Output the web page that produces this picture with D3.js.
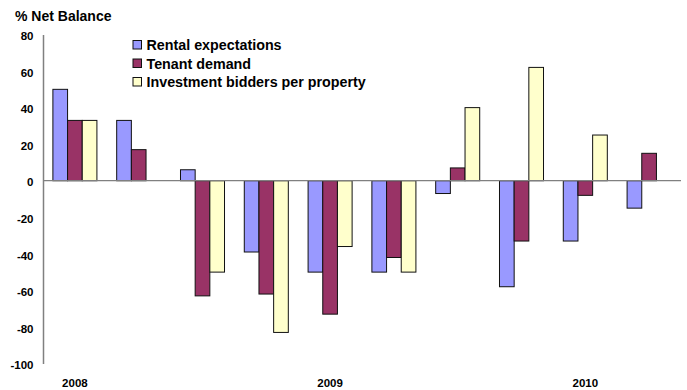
<!DOCTYPE html>
<html>
<head>
<meta charset="utf-8">
<script src="https://cdn.jsdelivr.net/npm/d3@7"></script>
<style>
  html, body { margin: 0; padding: 0; background: #fff; }
  svg { display: block; font-family: Arial, "Liberation Sans", sans-serif; }
</style>
</head>
<body>
<svg id="chart" width="687" height="390"></svg>
<script>
// Quarterly survey net balances, Q1 2008 to Q2 2010
const categories = ["Q1 2008", "Q2 2008", "Q3 2008", "Q4 2008", "Q1 2009",
                    "Q2 2009", "Q3 2009", "Q4 2009", "Q1 2010", "Q2 2010"];
const yearLabels = [
  { at: "Q1 2008", text: "2008" },
  { at: "Q1 2009", text: "2009" },
  { at: "Q1 2010", text: "2010" }
];
const seriesNames = ["Rental expectations", "Tenant demand", "Investment bidders per property"];
const rentalExpectations = [50, 33, 6, -39, -50, -50, -7, -58, -33, -15];
const tenantDemand       = [33, 17, -63, -62, -73, -42, 7, -33, -8, 15];
const investmentBidders  = [33, null, -50, -83, -36, -50, 40, 62, 25, null];
const yTicks = [80, 60, 40, 20, 0, -20, -40, -60, -80, -100];
const seriesColors = ["#9999FF", "#993366", "#FFFFCC"];

const seriesValues = [rentalExpectations, tenantDemand, investmentBidders];

const svg = d3.select("#chart");

const x = d3.scaleBand().domain(categories).range([43, 681]).padding(0);
const xInner = d3.scaleBand().domain(d3.range(seriesNames.length))
  .range([x.bandwidth() * 0.155, x.bandwidth() * 0.845]).padding(0);
const y = d3.scaleLinear().domain([-100, 80]).range([363.5, 34.5]);

// Title
svg.append("text")
  .attr("x", 15).attr("y", 21)
  .attr("font-size", 14).attr("font-weight", "bold").attr("fill", "#000")
  .text("% Net Balance");

// Y axis (plain hyphen for negative labels)
const yAxis = d3.axisLeft(y).tickValues(yTicks).tickSize(0).tickPadding(9.5)
  .tickFormat(d => String(d));
const gy = svg.append("g").attr("transform", "translate(43,0)").call(yAxis);
gy.select(".domain").attr("stroke", "#808080").attr("stroke-width", 1.5);
gy.selectAll(".tick text")
  .attr("font-size", 11.5).attr("font-weight", "bold").attr("fill", "#000")
  .attr("font-family", "Arial, 'Liberation Sans', sans-serif")
  .attr("dy", "0.45em");

// Bars
const groups = svg.append("g").selectAll("g")
  .data(categories)
  .join("g")
  .attr("transform", d => `translate(${x(d)},0)`);

groups.selectAll("rect")
  .data((c, i) => seriesValues.map((vals, s) => ({ s, v: vals[i] })).filter(d => d.v != null))
  .join("rect")
  .attr("x", d => xInner(d.s))
  .attr("width", xInner.bandwidth())
  .attr("y", d => y(Math.max(0, d.v)))
  .attr("height", d => Math.abs(y(d.v) - y(0)))
  .attr("fill", d => seriesColors[d.s])
  .attr("stroke", "#111")
  .attr("stroke-width", 1);

// Zero line
svg.append("line")
  .attr("x1", 43).attr("x2", 681)
  .attr("y1", y(0)).attr("y2", y(0))
  .attr("stroke", "#808080").attr("stroke-width", 1.2);

// Year labels under first quarter of each year
svg.append("g").selectAll("text")
  .data(yearLabels)
  .join("text")
  .attr("x", d => x(d.at) + x.bandwidth() / 2)
  .attr("y", 387)
  .attr("text-anchor", "middle")
  .attr("font-size", 11.5).attr("font-weight", "bold").attr("fill", "#000")
  .text(d => d.text);

// Legend
const legend = svg.append("g").selectAll("g")
  .data(seriesNames)
  .join("g")
  .attr("transform", (d, i) => `translate(133,${45 + i * 18.5})`);
legend.append("rect")
  .attr("x", 0).attr("y", -4.5).attr("width", 8.5).attr("height", 8.5)
  .attr("fill", (d, i) => seriesColors[i])
  .attr("stroke", "#111").attr("stroke-width", 1);
legend.append("text")
  .attr("x", 13.5).attr("y", 5)
  .attr("font-size", 14.3).attr("font-weight", "bold").attr("fill", "#000")
  .text(d => d);
</script>
</body>
</html>
